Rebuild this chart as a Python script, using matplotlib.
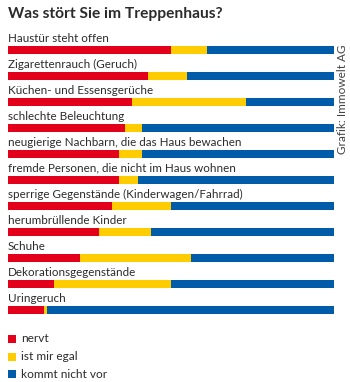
import matplotlib
matplotlib.use("Agg")
import matplotlib.pyplot as plt

# Anteile in Prozent
kategorien = [
    "Haustür steht offen",
    "Zigarettenrauch (Geruch)",
    "Küchen- und Essensgerüche",
    "schlechte Beleuchtung",
    "neugierige Nachbarn, die das Haus bewachen",
    "fremde Personen, die nicht im Haus wohnen",
    "sperrige Gegenstände (Kinderwagen/Fahrrad)",
    "herumbrüllende Kinder",
    "Schuhe",
    "Dekorationsgegenstände",
    "Uringeruch",
]
nervt = [50, 43, 38, 36, 34, 34, 32, 28, 22, 14, 11]
egal = [11, 12, 35, 5, 7, 6, 18, 16, 34, 36, 1]
kommt_nicht_vor = [100 - a - b for a, b in zip(nervt, egal)]

serien = ["nervt", "ist mir egal", "kommt nicht vor"]
farben = ["#e2001a", "#ffcc00", "#005ca9"]

W, H = 350, 382
fig = plt.figure(figsize=(W / 100, H / 100), dpi=100)
plt.rcParams["font.family"] = ["Lato", "DejaVu Sans"]
textfarbe = "#2b2b2b"

# Balkenbereich: Zeile i liegt bei y = 50 + 26*i Pixel
ax = fig.add_axes([8 / W, 1 - 323 / H, 326 / W, 286 / H])
ax.set_xlim(0, 100)
ax.set_ylim(len(kategorien) - 0.5, -0.5)
ax.axis("off")

idx = range(len(kategorien))
links = [0] * len(kategorien)
for werte, farbe in zip([nervt, egal, kommt_nicht_vor], farben):
    ax.barh(idx, werte, left=links, height=0.31, color=farbe, linewidth=0)
    links = [l + w for l, w in zip(links, werte)]

for i, name in enumerate(kategorien):
    ax.text(0, i - 0.32, name, fontsize=8.4, color=textfarbe, va="baseline", ha="left")

fig.text(8 / W, 1 - 14 / H, "Was stört Sie im Treppenhaus?", fontsize=11.2,
         fontweight="bold", color=textfarbe, va="center", ha="left")

# Legende
for k, (name, farbe) in enumerate(zip(serien, farben)):
    yc = 339 + 17.5 * k
    fig.patches.append(plt.Rectangle((8 / W, 1 - (yc + 4) / H), 8 / W, 8 / H,
                                     transform=fig.transFigure, color=farbe, lw=0))
    fig.text(21 / W, 1 - yc / H, name, fontsize=8.6, color=textfarbe,
             va="center", ha="left")

fig.text(343 / W, 1 - 45 / H, "Grafik: Immowelt AG", fontsize=8.5, color="#444444",
         rotation=90, va="top", ha="center")

fig.savefig("out.png", dpi=100, facecolor="white")
